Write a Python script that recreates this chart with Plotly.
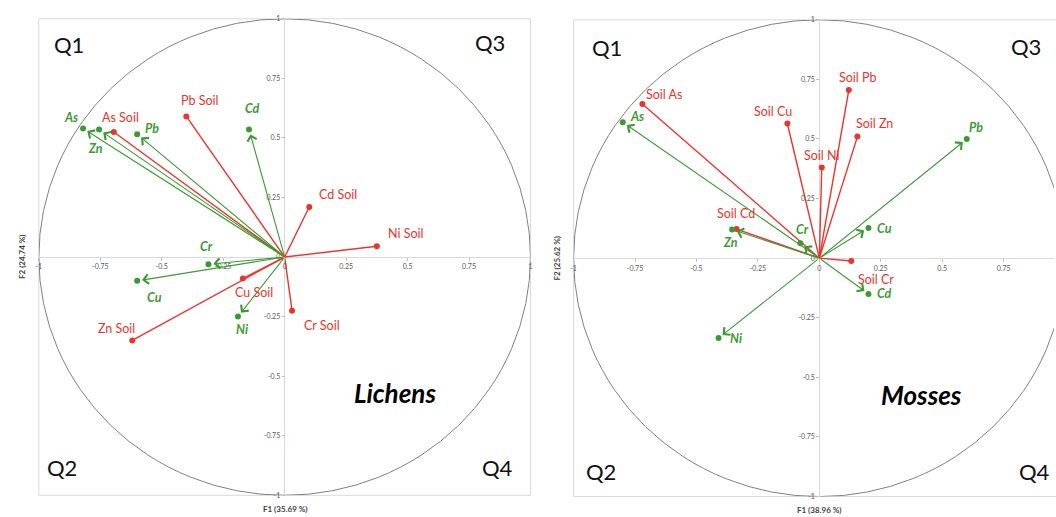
import plotly.graph_objects as go

# ---------------- DATA ----------------
# Lichens panel (F1 35.69 %, F2 24.74 %)
lichen_elements = ["As", "Zn", "Pb", "Cd", "Cr", "Cu", "Ni"]
lichen_f1 = [-0.82, -0.755, -0.60, -0.145, -0.31, -0.60, -0.19]
lichen_f2 = [0.54, 0.535, 0.515, 0.535, -0.03, -0.10, -0.25]

lichen_soil = ["As Soil", "Pb Soil", "Cd Soil", "Ni Soil", "Cu Soil", "Zn Soil", "Cr Soil"]
lichen_soil_f1 = [-0.695, -0.40, 0.10, 0.375, -0.17, -0.62, 0.03]
lichen_soil_f2 = [0.525, 0.59, 0.21, 0.045, -0.09, -0.35, -0.225]

# Mosses panel (F1 38.96 %, F2 25.62 %)
moss_elements = ["As", "Pb", "Zn", "Cr", "Cu", "Cd", "Ni"]
moss_f1 = [-0.80, 0.60, -0.355, -0.077, 0.20, 0.20, -0.41]
moss_f2 = [0.57, 0.50, 0.12, 0.063, 0.127, -0.15, -0.335]

moss_soil = ["Soil As", "Soil Cu", "Soil Pb", "Soil Zn", "Soil Ni", "Soil Cd", "Soil Cr"]
moss_soil_f1 = [-0.72, -0.13, 0.12, 0.155, 0.01, -0.337, 0.13]
moss_soil_f2 = [0.647, 0.565, 0.705, 0.51, 0.38, 0.122, -0.012]

panel_names = ["Lichens", "Mosses"]
f1_titles = ["F1 (35.69 %)", "F1 (38.96 %)"]
f2_titles = ["F2 (24.74 %)", "F2 (25.62 %)"]
quadrants = ["Q1", "Q3", "Q2", "Q4"]

tick_vals = [-1, -0.75, -0.5, -0.25, 0, 0.25, 0.5, 0.75, 1]
tick_text = ["-1", "-0.75", "-0.5", "-0.25", "0", "0.25", "0.5", "0.75", "1"]

# ---------------- STYLE / LAYOUT ----------------
RED = "#e8352d"
GREEN = "#3c9a34"
FONT = "Lato"

# label offsets in pixels (dx right, dy down)
lichen_el_off = [(-12, -11), (-4, 19), (15, -6), (3, -21), (-2, -18), (17, 17), (4, 13)]
lichen_soil_off = [(7, -14), (13, -16), (29, -13), (29, -13), (11, 14), (-16, -12), (30, 15)]
moss_el_off = [(14, -6), (9, -11), (-2, 13), (2, -14), (16, 1), (16, 0), (17, 0)]
moss_soil_off = [(22, -9), (-14, -12), (9, -13), (17, -13), (0, -12), (-1, -16), (25, 18)]

W, H = 1056, 517
# pixel geometry of the two plot areas
left_px = dict(x0=36, x1=530, y0=14, y1=498)
right_px = dict(x0=573.3, x1=1056, y0=15, y1=499.3)
x_ranges = [[-1, 1], [-1, 0.955]]
y_ranges = [[-1, 1], [-1, 1]]
f1_title_y = [512, 513]
f2_title_x = [19, 557]

def dom(px):
    return [px["x0"] / W, px["x1"] / W], [(H - px["y1"]) / H, (H - px["y0"]) / H]

xd1, yd1 = dom(left_px)
xd2, yd2 = dom(right_px)
xdoms, ydoms = [xd1, xd2], [yd1, yd2]

def zero_pos(dm, rg):
    return dm[0] + (0 - rg[0]) / (rg[1] - rg[0]) * (dm[1] - dm[0])

fig = go.Figure()
annotations = []
shapes = []

panels = [
    (lichen_elements, lichen_f1, lichen_f2, lichen_soil, lichen_soil_f1, lichen_soil_f2,
     lichen_el_off, lichen_soil_off),
    (moss_elements, moss_f1, moss_f2, moss_soil, moss_soil_f1, moss_soil_f2,
     moss_el_off, moss_soil_off),
]

quad_pos = [
    [(-0.879, 0.893), (0.837, 0.90), (-0.905, -0.884), (0.866, -0.884)],
    [(-0.866, 0.885), (0.843, 0.887), (-0.89, -0.894), (0.877, -0.894)],
]
name_pos = [(0.449, -0.57), (0.415, -0.576)]

for i, (els, ex, ey, soils, sx, sy, eoff, soff) in enumerate(panels):
    xa = "x" if i == 0 else "x2"
    ya = "y" if i == 0 else "y2"

    # frame
    shapes.append(dict(type="rect", xref=f"{xa} domain", yref=f"{ya} domain",
                       x0=0, x1=1 if i == 0 else 1.05, y0=0, y1=1,
                       line=dict(color="#d9d9d9", width=1), layer="below"))
    # correlation circle
    shapes.append(dict(type="circle", xref=xa, yref=ya, x0=-1, x1=1, y0=-1, y1=1,
                       line=dict(color="#808080", width=1), layer="below"))

    # soil vectors (red lines)
    lx, ly = [], []
    for a, b in zip(sx, sy):
        lx += [0, a, None]
        ly += [0, b, None]
    fig.add_trace(go.Scatter(x=lx, y=ly, mode="lines", xaxis=xa, yaxis=ya,
                             line=dict(color=RED, width=1.4), hoverinfo="skip",
                             showlegend=False))
    fig.add_trace(go.Scatter(x=sx, y=sy, mode="markers", xaxis=xa, yaxis=ya,
                             marker=dict(color=RED, size=6), text=soils,
                             showlegend=False))
    # element vectors (green arrows)
    for a, b in zip(ex, ey):
        annotations.append(dict(x=a, y=b, ax=0, ay=0, xref=xa, yref=ya,
                                axref=xa, ayref=ya, text="", showarrow=True,
                                arrowhead=4, arrowsize=1.7, arrowwidth=1.1,
                                arrowcolor=GREEN, standoff=5))
    fig.add_trace(go.Scatter(x=ex, y=ey, mode="markers", xaxis=xa, yaxis=ya,
                             marker=dict(color=GREEN, size=6), text=els,
                             showlegend=False))

    # labels
    for t, a, b, (dx, dy) in zip(soils, sx, sy, soff):
        annotations.append(dict(x=a, y=b, xref=xa, yref=ya, text=t, showarrow=False,
                                xshift=dx, yshift=-dy,
                                font=dict(family=FONT, size=12.5, color=RED)))
    for t, a, b, (dx, dy) in zip(els, ex, ey, eoff):
        annotations.append(dict(x=a, y=b, xref=xa, yref=ya, text=f"<b><i>{t}</i></b>",
                                showarrow=False, xshift=dx, yshift=-dy,
                                font=dict(family=FONT, size=12.5, color=GREEN)))

    # quadrant labels
    for q, (qx, qy) in zip(quadrants, quad_pos[i]):
        annotations.append(dict(x=qx, y=qy, xref=xa, yref=ya, text=q, showarrow=False,
                                font=dict(family=FONT, size=22, color="#111111")))
    annotations.append(dict(x=name_pos[i][0], y=name_pos[i][1], xref=xa, yref=ya,
                            text=f"<b><i>{panel_names[i]}</i></b>", showarrow=False,
                            font=dict(family=FONT, size=26, color="#000000")))

    # axis titles
    xz = zero_pos(xdoms[i], x_ranges[i])
    yz = zero_pos(ydoms[i], y_ranges[i])
    annotations.append(dict(x=xz, y=(H - f1_title_y[i]) / H, xref="paper",
                            yref="paper", xanchor="center", yanchor="middle",
                            text=f"<b>{f1_titles[i]}</b>", showarrow=False,
                            font=dict(family=FONT, size=8, color="#404040")))
    annotations.append(dict(x=f2_title_x[i] / W, y=yz, xref="paper",
                            yref="paper", xanchor="center", yanchor="middle",
                            text=f"<b>{f2_titles[i]}</b>", showarrow=False,
                            textangle=-90,
                            font=dict(family=FONT, size=8, color="#404040")))

axis_common = dict(tickvals=tick_vals, ticktext=tick_text, showgrid=False,
                   zeroline=True, zerolinecolor="#d9d9d9", zerolinewidth=1,
                   showline=False, ticks="outside", ticklen=3, tickcolor="#bfbfbf",
                   tickfont=dict(family=FONT, size=7, color="#595959"),
                   anchor="free", fixedrange=True)

layout_axes = {}
for i in range(2):
    sfx = "" if i == 0 else "2"
    layout_axes[f"xaxis{sfx}"] = dict(axis_common, domain=xdoms[i], range=x_ranges[i],
                                      position=zero_pos(ydoms[i], y_ranges[i]))
    layout_axes[f"yaxis{sfx}"] = dict(axis_common, domain=ydoms[i], range=y_ranges[i],
                                      position=zero_pos(xdoms[i], x_ranges[i]))

fig.update_layout(width=W, height=H, margin=dict(l=0, r=0, t=0, b=0),
                  paper_bgcolor="white", plot_bgcolor="white",
                  annotations=annotations, shapes=shapes, **layout_axes)

fig.write_html("out.html", config={"displayModeBar": False},
               post_script="document.body.style.margin='0';document.body.style.overflow='hidden';")
